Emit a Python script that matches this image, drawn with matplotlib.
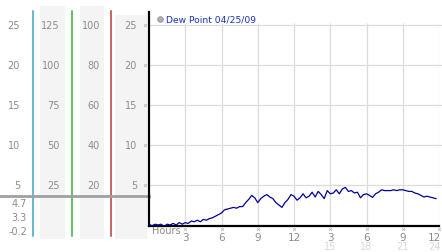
import numpy as np
import matplotlib
matplotlib.use("Agg")
from matplotlib import pyplot as plt
from matplotlib.transforms import blended_transform_factory as blend

W, H = 442, 253  # output size in px

# -----------DATA-----------------
# dew point every 15 min, starting at hour 0
dew = [
    0.1, -0.1, 0.1, 0.0,
    0.1, -0.2, 0.1, 0.0,
    0.2, 0.0, 0.3, 0.1,
    0.3, 0.2, 0.5, 0.4,
    0.6, 0.4, 0.7, 0.6,
    0.8, 0.9, 1.1, 1.3,
    1.5, 1.9, 2.0, 2.1,
    2.2, 2.1, 2.3, 2.3,
    2.8, 3.2, 3.7, 3.4,
    2.8, 3.3, 3.6, 3.8,
    3.5, 3.3, 2.8, 2.5,
    2.2, 2.8, 3.2, 3.8,
    3.6, 3.1, 3.4, 3.9,
    3.4, 3.6, 4.1, 3.5,
    4.2, 3.8, 3.3, 4.3,
    3.9, 4.0, 4.4, 3.9,
    4.5, 4.7, 4.2, 4.3,
    4.0, 4.1, 3.4, 3.8,
    3.9, 3.7, 3.45, 3.9,
    4.1, 4.4, 4.3, 4.3,
    4.3, 4.4, 4.3, 4.4,
    4.4, 4.3, 4.2, 4.2,
    4.0, 3.9, 3.7, 3.5,
    3.6, 3.5, 3.4, 3.3,
]
step = 0.25  # hours between readings
scale_c = [25, 20, 15, 10, 5]
scale_a = [125, 100, 75, 50, 25]
scale_b = [100, 80, 60, 40, 20]
stats = ["4.7", "3.3", "-0.2"]  # max / now / min
hour_ticks = [3, 6, 9, 12, 15, 18, 21, 24]
hour_top = ["3", "6", "9", "12", "3", "6", "9", "12"]
hour_bot = ["", "", "", "", "15", "18", "21", "24"]
title = "Dew Point 04/25/09"

grey = "#8c8c8c"
gridc = "#dcdcdc"

fig = plt.figure(figsize=(W / 100, H / 100), dpi=100)

# overlay in pixel coords for the left scale panel
ov = fig.add_axes([0, 0, 1, 1], zorder=0)
ov.set_xlim(0, W)
ov.set_ylim(H, 0)
ov.axis("off")

ax = fig.add_axes([149 / W, (H - 227) / H, 290 / W, 214 / H], zorder=1)
ax.set_facecolor("none")
ax.set_xlim(0, 24)
ax.set_ylim(-0.125, 26.625)
for s in ["top", "right"]:
    ax.spines[s].set_visible(False)
ax.spines["left"].set_linewidth(1.6)
ax.spines["bottom"].set_linewidth(1.6)
ax.set_xticks([])
ax.set_yticks([])

# grid
ax.hlines(scale_c, 0, 24.3, color=gridc, lw=0.9, clip_on=False, zorder=0)
ax.vlines(hour_ticks, 0, 25.3, color=gridc, lw=0.9, zorder=0)

hours = np.arange(len(dew)) * step
ax.plot(hours, dew, color="#000099", lw=0.9, zorder=3)

# legend / title
ax.plot([0.95], [25.8], "o", ms=4, color="#b0b0b0", mec="#909090", mew=0.6, clip_on=False)
ax.text(1.4, 25.8, title, color="#1a2fc0", fontsize=6.6, va="center", ha="left")

# left scale columns
tr = blend(ov.transData, ax.transData)
for x0, x1, top in [(40, 65, 7), (80, 104, 7), (115, 147, 16)]:
    ov.add_patch(plt.Rectangle((x0, top), x1 - x0, 240 - top, color="#f4f4f4", lw=0))
for x, c in [(33, "#3fa3c8"), (72, "#3cae3c"), (111, "#b33a3a")]:
    ov.plot([x, x], [12, 237], color=c, lw=1.1)
ov.plot([0, 149], [197, 197], color="#a0a0a0", lw=2)

for vals, xr in [(scale_c, 20), (scale_a, 60), (scale_b, 100), (scale_c, 137)]:
    for v, lab in zip(scale_c, vals):
        ov.text(xr, v, str(lab), transform=tr, ha="right", va="center",
                fontsize=7, color=grey)
ov.plot([145] * len(scale_c), scale_c, "x", ms=2, mew=0.6, color="#b8b8b8", transform=tr)

for y, s in zip([204, 218, 232], stats):
    ov.text(27, y, s, ha="right", va="center", fontsize=7, color=grey)

# hour labels
trx = blend(ax.transData, ov.transData)
ov.text(152, 231, "Hours", ha="left", va="center", fontsize=7, color=grey)
ov.plot(hour_ticks, [229.5] * len(hour_ticks), "x", ms=2, mew=0.6, color="#b8b8b8", transform=trx)
for h, a, b in zip(hour_ticks, hour_top, hour_bot):
    if h == hour_ticks[-1]:
        # last label is pushed inside the right edge
        ov.text(441, 238, a, ha="right", va="center", fontsize=7.5, color=grey)
        ov.text(441, 247.5, b, ha="right", va="center", fontsize=7, color="#d8d8d8")
        continue
    ov.text(h, 238, a, transform=trx, ha="center", va="center", fontsize=7.5, color=grey)
    ov.text(h, 247.5, b, transform=trx, ha="center", va="center", fontsize=7, color="#d8d8d8")

fig.savefig("out.png", dpi=100)
